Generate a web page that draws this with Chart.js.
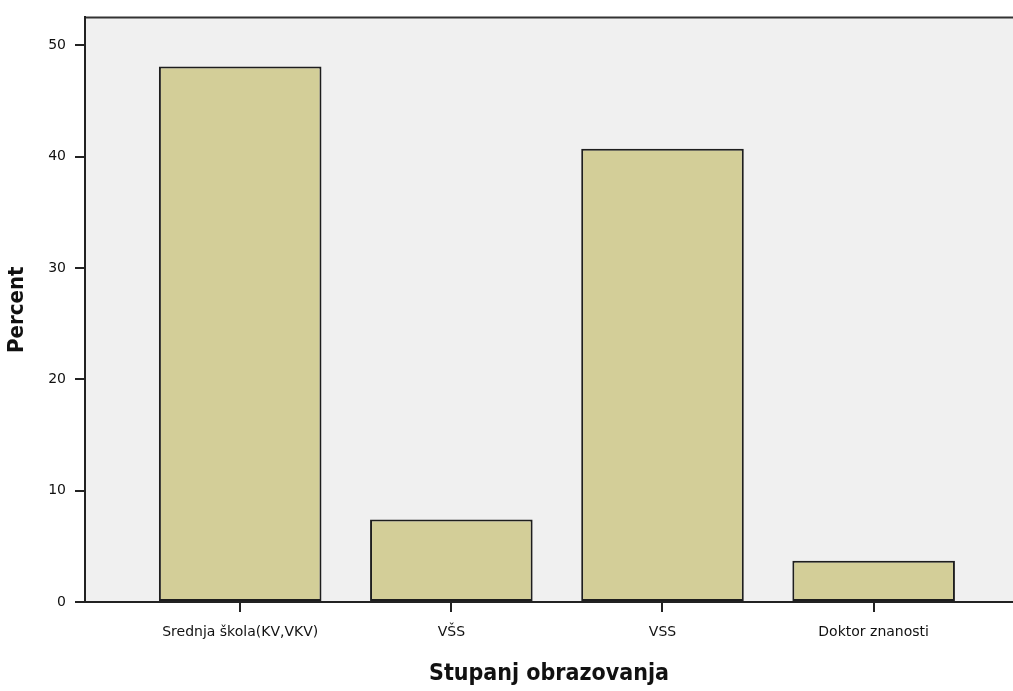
<!DOCTYPE html>
<html>
<head>
<meta charset="utf-8">
<script src="https://cdn.jsdelivr.net/npm/chart.js@4"></script>
<style>
  html, body { margin: 0; padding: 0; background: #fff; }
  #wrap { width: 1013px; height: 691px; }
</style>
</head>
<body>
<div id="wrap"><canvas id="myChart"></canvas></div>
<script>
// data (percent of respondents)
const categories = ["Srednja škola(KV,VKV)", "VŠS", "VSS", "Doktor znanosti"];
const percentValues = [48.1, 7.4, 40.7, 3.7];
const yTicks = [0, 10, 20, 30, 40, 50];

// plot background + top frame line
const plotBox = {
  id: "plotBox",
  beforeDraw(chart) {
    const a = chart.chartArea, c = chart.ctx;
    c.save();
    c.fillStyle = "#f0f0f0";
    c.fillRect(a.left, a.top, a.right - a.left, a.bottom - a.top);
    c.strokeStyle = "#333";
    c.lineWidth = 2;
    c.beginPath();
    c.moveTo(a.left, a.top);
    c.lineTo(a.right, a.top);
    c.stroke();
    c.restore();
  }
};

function displayChart() {
  const ctx = document.getElementById("myChart").getContext("2d");
  new Chart(ctx, {
    type: "bar",
    data: {
      datasets: [
        {
          label: "Percent",
          data: categories.map((c, i) => ({ x: i, y: percentValues[i] })),
          backgroundColor: "#d3ce98",
          borderColor: "#1e1e1e",
          borderWidth: 2,
          borderSkipped: false,
          barPercentage: 0.77,
          categoryPercentage: 1,
        },
      ],
    },
    options: {
      responsive: true,
      maintainAspectRatio: false,
      animation: false,
      layout: { padding: { top: 15, right: 0, left: 0, bottom: 0 } },
      plugins: { legend: { display: false }, tooltip: { enabled: false } },
      scales: {
        x: {
          type: "linear",
          offset: false,
          min: -0.735,
          max: 3.66,
          afterBuildTicks: (s) => { s.ticks = categories.map((c, i) => ({ value: i })); },
          afterFit: (s) => { s.height = 89; },
          ticks: {
            stepSize: 1,
            includeBounds: false,
            autoSkip: false,
            maxRotation: 0,
            color: "#111",
            padding: 12,
            font: { family: "'DejaVu Sans', sans-serif", size: 14 },
            callback: (v) => categories[v] ?? "",
          },
          grid: { display: true, offset: false, drawOnChartArea: false, tickLength: 10, color: "#222", lineWidth: 2 },
          border: { display: true, color: "#222", width: 2 },
          title: {
            display: true,
            text: "Stupanj obrazovanja",
            color: "#111",
            padding: { top: 0, bottom: 3 },
            font: { family: "'DejaVu Sans Condensed', sans-serif", size: 23, weight: "bold" },
          },
        },
        y: {
          min: 0,
          max: 52.5,
          afterBuildTicks: (s) => { s.ticks = yTicks.map((v) => ({ value: v })); },
          afterFit: (s) => { s.width = 85; },
          ticks: {
            color: "#111",
            padding: 9,
            font: { family: "'DejaVu Sans', sans-serif", size: 14 },
          },
          grid: { display: true, drawOnChartArea: false, tickLength: 10, color: "#222", lineWidth: 2 },
          border: { display: true, color: "#222", width: 2 },
          title: {
            display: true,
            text: "Percent",
            color: "#111",
            padding: { top: 4, bottom: 0 },
            font: { family: "'DejaVu Sans Condensed', sans-serif", size: 22, weight: "bold" },
          },
        },
      },
    },
    plugins: [plotBox],
  });
}
displayChart();
</script>
</body>
</html>
